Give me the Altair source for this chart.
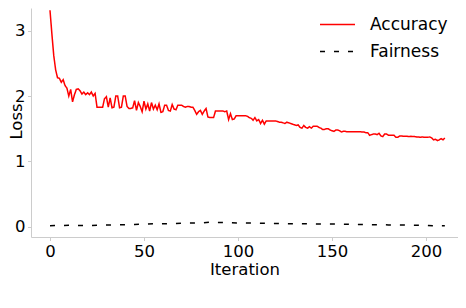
import altair as alt
import pandas as pd

series_names = ["Accuracy", "Fairness"]
series_colors = ["#ff0000", "#000000"]

iterations = list(range(211))
accuracy = [
    3.31, 2.95, 2.62, 2.40, 2.28, 2.27, 2.21, 2.25, 2.16, 2.12,
    2.00, 2.10, 1.91, 2.02, 2.10, 2.11, 2.08, 2.03, 2.06, 2.02,
    2.05, 2.02, 2.06, 2.00, 2.04, 1.83, 1.83, 1.83, 1.83, 1.96,
    1.99, 1.83, 1.97, 1.82, 1.83, 2.00, 2.00, 1.82, 1.83, 2.00,
    2.00, 1.84, 1.81, 1.81, 1.82, 1.93, 1.78, 1.90, 1.84, 1.76,
    1.92, 1.80, 1.88, 1.77, 1.90, 1.80, 1.86, 1.79, 1.88, 1.75,
    1.76, 1.86, 1.86, 1.78, 1.77, 1.87, 1.80, 1.79, 1.86, 1.86,
    1.86, 1.84, 1.83, 1.84, 1.84, 1.83, 1.83, 1.78, 1.72, 1.76,
    1.78, 1.72, 1.77, 1.81, 1.68, 1.67, 1.67, 1.67, 1.77, 1.77,
    1.77, 1.77, 1.77, 1.76, 1.77, 1.64, 1.73, 1.64, 1.65, 1.70,
    1.70, 1.70, 1.70, 1.70, 1.70, 1.69, 1.67, 1.66, 1.63, 1.67,
    1.62, 1.64, 1.58, 1.63, 1.57, 1.62, 1.62, 1.62, 1.62, 1.62,
    1.62, 1.61, 1.60, 1.60, 1.59, 1.58, 1.60, 1.59, 1.58, 1.57,
    1.56, 1.55, 1.56, 1.52, 1.51, 1.55, 1.52, 1.51, 1.53, 1.51,
    1.54, 1.54, 1.54, 1.52, 1.51, 1.49, 1.49, 1.50, 1.50, 1.48,
    1.47, 1.46, 1.48, 1.48, 1.47, 1.45, 1.46, 1.46, 1.455, 1.455,
    1.455, 1.455, 1.455, 1.455, 1.455, 1.455, 1.45, 1.45, 1.44, 1.44,
    1.40, 1.41, 1.42, 1.42, 1.41, 1.43, 1.39, 1.38, 1.42, 1.42,
    1.40, 1.40, 1.40, 1.40, 1.37, 1.37, 1.39, 1.39, 1.385, 1.385,
    1.385, 1.38, 1.385, 1.38, 1.38, 1.375, 1.375, 1.37, 1.375, 1.37,
    1.37, 1.37, 1.375, 1.36, 1.33, 1.34, 1.32, 1.33, 1.35, 1.33, 1.36,
]

fairness_iter = list(range(0, 211, 5))
fairness = [
    0.020, 0.022, 0.025, 0.022, 0.021, 0.025, 0.030, 0.032, 0.035, 0.038,
    0.042, 0.048, 0.050, 0.052, 0.058, 0.060, 0.062, 0.072, 0.068, 0.066,
    0.062, 0.060, 0.060, 0.055, 0.052, 0.050, 0.050, 0.050, 0.048, 0.046,
    0.045, 0.044, 0.040, 0.038, 0.036, 0.034, 0.032, 0.030, 0.028, 0.026,
    0.022, 0.020, 0.020,
]

x_ticks = [0, 50, 100, 150, 200]
y_ticks = [0, 1, 2, 3]

df = pd.concat([
    pd.DataFrame({"Iteration": iterations, "Loss": accuracy, "Series": series_names[0]}),
    pd.DataFrame({"Iteration": fairness_iter, "Loss": fairness, "Series": series_names[1]}),
])

FONT = "DejaVu Sans"
GRAY = "#cccccc"

x_scale = alt.Scale(domain=[-10.1, 217.0], nice=False, zero=False)
y_scale = alt.Scale(domain=[-0.153, 3.344], nice=False, zero=False)

x_enc = alt.X(
    "Iteration:Q", scale=x_scale,
    axis=alt.Axis(values=x_ticks, title="Iteration", titleY=37, titleBaseline="alphabetic",
                  titleFontSize=16.5, titleFontWeight="normal", titleFont=FONT, titleColor="black"),
)

legend = alt.Legend(
    title=None, orient="none", legendX=288, legendY=-2,
    symbolType="stroke", symbolSize=1225, symbolStrokeWidth=1.5,
    labelFontSize=17, labelFont=FONT, labelColor="black", labelOffset=14,
    rowPadding=-13.5, padding=0, offset=0,
)

lines = alt.Chart(df).mark_line(strokeWidth=1.5, clip=True).encode(
    x=x_enc,
    y=alt.Y("Loss:Q", scale=y_scale,
            axis=alt.Axis(values=y_ticks, title="Loss", titleX=-10, titleY=113, titleAngle=270,
                          titleAlign="center", titleBaseline="alphabetic", titleFontSize=16.5,
                          titleFontWeight="normal", titleFont=FONT, titleColor="black")),
    color=alt.Color("Series:N", scale=alt.Scale(domain=series_names, range=series_colors), legend=legend),
    strokeDash=alt.StrokeDash("Series:N", scale=alt.Scale(domain=series_names, range=[[1, 0], [5, 9]]),
                              legend=legend),
)

border = alt.Chart(df).mark_line(strokeOpacity=0).encode(
    x=alt.X("Iteration:Q", scale=x_scale),
    y=alt.Y("Loss:Q", scale=y_scale,
            axis=alt.Axis(orient="right", labels=False, ticks=False, title=None, grid=False)),
)

chart = alt.layer(lines, border).resolve_axis(y="independent").properties(
    width=427, height=229,
    autosize=alt.AutoSizeParams(type="none"),
    padding={"left": 23, "top": 0, "right": 0, "bottom": 58},
).configure_view(stroke=None).configure_axis(
    grid=False, domainColor=GRAY, domainWidth=1, tickColor=GRAY, tickSize=3.5, tickWidth=1,
    labelFont=FONT, labelFontSize=16.5, labelColor="black", labelPadding=2.5,
)

chart.save("out.html", embed_options={"renderer": "svg", "actions": False})
